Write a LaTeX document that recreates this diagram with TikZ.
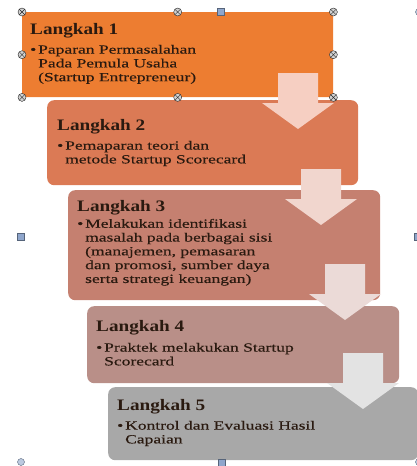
\documentclass[tikz,border=0pt]{standalone}
\usepackage{fontspec}
\setmainfont{Liberation Serif}
\newfontfamily\headfont[FakeStretch=1.2]{Liberation Serif}
\newfontfamily\bodyfont[FakeStretch=1.4,FakeBold=0.3]{Liberation Serif}
\usetikzlibrary{positioning}

\definecolor{boxA}{HTML}{ED7D31}
\definecolor{boxB}{HTML}{DB7A55}
\definecolor{boxC}{HTML}{C58070}
\definecolor{boxD}{HTML}{B98F88}
\definecolor{boxE}{HTML}{A8A8A8}
\definecolor{arrA}{HTML}{F6CFC2}
\definecolor{arrB}{HTML}{F1D6CE}
\definecolor{arrC}{HTML}{EBDAD7}
\definecolor{arrD}{HTML}{E3E3E3}
\definecolor{txtcol}{HTML}{2A1A10}
\definecolor{handleblue}{HTML}{8FA6CC}

\newcommand{\bul}{\makebox[8pt][l]{\textbullet}}
\newcommand{\ind}{\hspace*{8pt}}
% block arrow pointing down: centre x, top y, colour
\newcommand{\downblock}[3]{%
  \fill[#3] (#1-20,#2) -- (#1+20,#2) -- (#1+20,#2+30) -- (#1+36,#2+30)
    -- (#1,#2+56) -- (#1-36,#2+30) -- (#1-20,#2+30) -- cycle;}

\begin{document}
\begin{tikzpicture}[x=1pt,y=-1pt,
	stepbox/.style={anchor=north west, inner sep=0, rounded corners=7pt},
	headtxt/.style={anchor=base west, inner sep=0, text=txtcol,
		font=\headfont\bfseries\fontsize{16}{18}\selectfont},
	bodytxt/.style={anchor=north west, inner sep=0, align=left, text=txtcol,
		font=\bodyfont\fontsize{12.5}{13.8}\selectfont},
	selhandle/.style={circle, draw=gray!30!black, fill=gray!35, inner sep=0,
		minimum size=8pt, path picture={
		\draw[gray!30!black] (path picture bounding box.north west) -- (path picture bounding box.south east)
		(path picture bounding box.north east) -- (path picture bounding box.south west);}},
	sqhandle/.style={draw=handleblue!60!black, fill=handleblue, inner sep=0,
		minimum size=7pt},
	cornerhandle/.style={circle, draw=handleblue!60!black, fill=handleblue!60, inner sep=0,
		minimum size=7pt}]
	\useasboundingbox (0,0) rectangle (417,466);

	% the five steps
	\node[stepbox, fill=boxA, rounded corners=3pt, minimum width=311pt, minimum height=85pt] (b1) at (22,12) {};
	\node[stepbox, fill=boxB, minimum width=311pt, minimum height=85pt] (b2) at (47,100) {};
	\node[stepbox, fill=boxC, minimum width=312pt, minimum height=110pt] (b3) at (68,190) {};
	\node[stepbox, fill=boxD, minimum width=312pt, minimum height=77pt] (b4) at (87,306) {};
	\node[stepbox, fill=boxE, minimum width=310pt, minimum height=73pt] (b5) at (108,387) {};

	% arrows between the steps
	\downblock{298}{73}{arrA}
	\downblock{321}{169}{arrB}
	\downblock{345}{264}{arrC}
	\downblock{363}{353}{arrD}

	\node[headtxt] (h1) at (30,34) {Langkah 1};
	\node[bodytxt, below=7pt of h1.south west, anchor=north west] (d1)
		{\bul Paparan Permasalahan\\ \ind Pada Pemula Usaha\\ \ind (Startup Entrepreneur)};
	\node[headtxt] (h2) at (57,130) {Langkah 2};
	\node[bodytxt, below=7pt of h2.south west, anchor=north west] (d2)
		{\bul Pemaparan teori dan\\ \ind metode Startup Scorecard};
	\node[headtxt] (h3) at (77,211) {Langkah 3};
	\node[bodytxt, below=4pt of h3.south west, anchor=north west] (d3)
		{\bul Melakukan identifikasi\\ \ind masalah pada berbagai sisi\\ \ind (manajemen, pemasaran\\
		 \ind dan promosi, sumber daya\\ \ind serta strategi keuangan)};
	\node[headtxt] (h4) at (96,331) {Langkah 4};
	\node[bodytxt, below=8pt of h4.south west, anchor=north west] (d4)
		{\bul Praktek melakukan Startup\\ \ind Scorecard};
	\node[headtxt] (h5) at (117,410) {Langkah 5};
	\node[bodytxt, below=7pt of h5.south west, anchor=north west] (d5)
		{\bul Kontrol dan Evaluasi Hasil\\ \ind Capaian};

	% selection handles
	\foreach \a [count=\i] in {north west,north,north east,west,east,south west,south,south east}
		\node[selhandle] (g\i) at (b1.\a) {};
	\node[sqhandle] (s1) at (221,12) {};
	\node[sqhandle] (s2) at (21,237) {};
	\node[sqhandle] (s3) at (418,237) {};
	\node[sqhandle] (s4) at (222,463) {};
	\node[cornerhandle] (c1) at (21,462) {};
	\node[cornerhandle] (c2) at (419,12) {};
	\node[cornerhandle] (c3) at (419,462) {};
\end{tikzpicture}
\end{document}
